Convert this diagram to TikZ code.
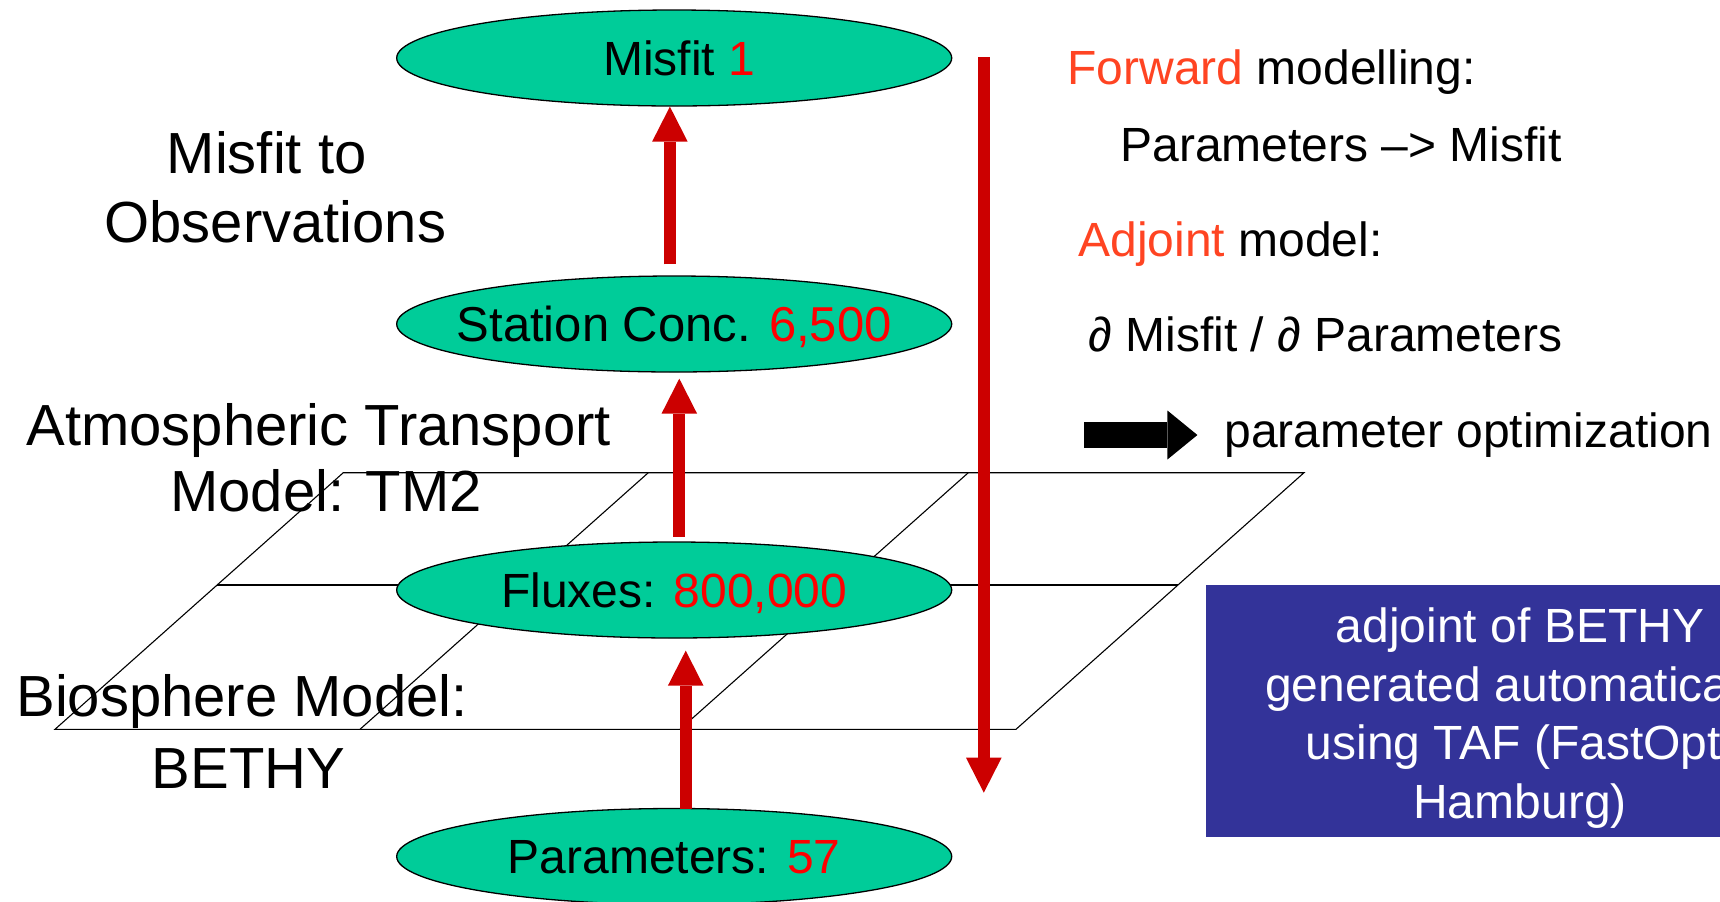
\documentclass[tikz,border=0pt]{standalone}
\usepackage{fontspec}
\setmainfont{Liberation Sans}
\usetikzlibrary{shapes.geometric,arrows.meta,calc}
\definecolor{ellfill}{HTML}{00CC99}
\definecolor{arrred}{HTML}{CC0000}
\definecolor{numred}{HTML}{FF0000}
\definecolor{hilite}{HTML}{FF4422}
\definecolor{boxblue}{HTML}{333399}
\begin{document}
\begin{tikzpicture}[x=0.5pt,y=-0.5pt,
  stage/.style={ellipse, draw=black, line width=0.65pt, fill=ellfill,
    minimum width=277.5pt, minimum height=48pt, inner sep=0pt,
    text height=17.3pt, text depth=0pt, font=\fontsize{24}{28}\selectfont},
  gridline/.style={draw=black, line width=0.55pt},
  flowarrow/.style={draw=arrred, line width=6pt,
    -{Triangle[width=17.8pt,length=17.5pt,line width=0pt]}},
  sidelabel/.style={anchor=base, inner sep=0pt, font=\fontsize{29}{34}\selectfont},
  note/.style={anchor=base west, inner sep=0pt, font=\fontsize{24}{28}\selectfont},
  boxline/.style={anchor=base, inner sep=0pt, text=white, font=\fontsize{24}{28}\selectfont},
]
\useasboundingbox (0,0) rectangle (1720,901);
\clip (0,0) rectangle (1720,901);

% perspective grid
\draw[gridline] (343.3,472.7) -- (1304,472.7) -- (1016,729.3) -- (55,729.3) -- cycle;
\draw[gridline] (217.1,585) -- (1177.8,585);
\draw[gridline] (648.3,472.7) -- (360,729.3);
\draw[gridline] (968.3,472.7) -- (680,729.3);

% stages
\node[stage] (misfit) at (674.2,58) {\makebox[0pt]{\hspace*{5pt}Misfit \textcolor{numred}{1}}};
\node[stage, text height=17.8pt, font=\fontsize{24.5}{29}\selectfont] (station) at (674.2,324) {\makebox[0pt]{Station Conc. \textcolor{numred}{6,500}}};
\node[stage] (fluxes) at (674.2,590) {\makebox[0pt]{Fluxes: \textcolor{numred}{800,000}}};
\node[stage] (params) at (674.2,856.5) {\makebox[0pt]{Parameters: \textcolor{numred}{57}}};

% forward arrows
\draw[flowarrow] ($(station.north)+(-4.3,-11)$) -- ($(misfit.south)+(-4.3,0)$);
\draw[flowarrow] ($(fluxes.north)+(5.1,-4.7)$) -- ($(station.south)+(5.1,6)$);
\draw[flowarrow] ($(params.north)+(11.5,0.8)$) -- ($(fluxes.south)+(11.5,12)$);

% adjoint arrow
\coordinate (adjtop) at (983.8,57.3);
\coordinate (adjbot) at (983.8,792.7);
\draw[flowarrow, line width=6.15pt] (adjtop) -- (adjbot);

% left labels
\node[sidelabel] (obs1) at (266.6,173) {Misfit to};
\node[sidelabel] (obs2) at (275.3,242) {Observations};
\node[sidelabel] (atm1) at (318.7,445) {Atmospheric Transport};
\node[sidelabel] (atm2) at (326,511.7) {Model: TM2};
\node[sidelabel] (bio1) at (242,716) {Biosphere Model:};
\node[sidelabel] (bio2) at (248.5,788) {BETHY};

% right notes
\node[note] (fwd) at (1067,84) {\textcolor{hilite}{Forward} modelling:};
\node[note] (fwdeq) at (1120,161) {Parameters –> Misfit};
\node[note] (adj) at (1078,256) {\textcolor{hilite}{Adjoint} model:};
\node[note] (adjeq) at (1088,351) {∂ Misfit / ∂ Parameters};
\coordinate (optfrom) at (1084,435);
\coordinate (optto) at (1197.4,435);
\draw[black, line width=13.3pt, -{Triangle[width=24.5pt,length=15pt,line width=0pt]}] (optfrom) -- (optto);
\node[note] (opt) at (1224,447) {parameter optimization};

% TAF box
\node[fill=boxblue, anchor=north west, minimum width=314pt, minimum height=126pt, inner sep=0pt] (tafbox) at (1206,585) {};
\node[boxline] (taf1) at (1520,642.5) {adjoint of BETHY};
\node[boxline] (taf2) at (1520,701) {generated automatically};
\node[boxline] (taf3) at (1520,759.5) {using TAF (FastOpt,};
\node[boxline] (taf4) at (1520,818) {Hamburg)};
\end{tikzpicture}
\end{document}
